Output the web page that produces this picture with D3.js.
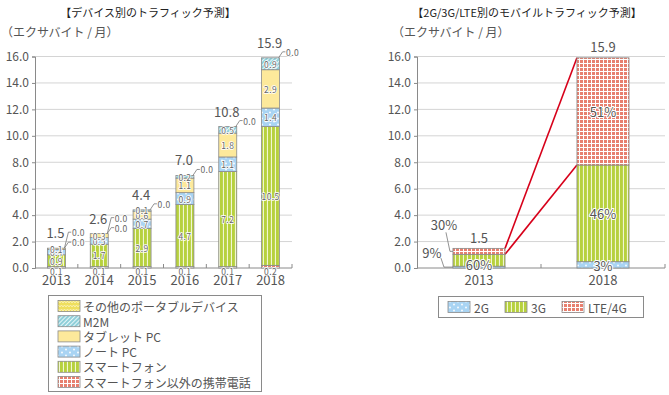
<!DOCTYPE html>
<html><head><meta charset="utf-8">
<script src="https://cdn.jsdelivr.net/npm/d3@7"></script>
<style>
html,body{margin:0;padding:0;background:#fff;}
svg{display:block;font-family:"Noto Sans CJK JP","Noto Sans",sans-serif;}
</style></head>
<body>
<script>
// ---- Data: left chart (exabytes / month) ----
const years = ["2013","2014","2015","2016","2017","2018"];
const otherPhones   = [0.1, 0.1, 0.1, 0.1, 0.1, 0.2];
const smartphones   = [0.9, 1.7, 2.9, 4.7, 7.2, 10.5];
const notebooks     = [0.4, 0.5, 0.7, 0.9, 1.1, 1.4];
const tablets       = [0.1, 0.3, 0.6, 1.1, 1.8, 2.9];
const m2m           = [0.0, 0.0, 0.1, 0.2, 0.5, 0.9];
const otherPortable = [0.0, 0.0, 0.0, 0.0, 0.0, 0.0];
const totals        = ["1.5","2.6","4.4","7.0","10.8","15.9"];
const seriesNames = ["スマートフォン以外の携帯電話","スマートフォン","ノート PC","タブレット PC","M2M","その他のポータブルデバイス"];
// ---- Data: right chart ----
const years2 = ["2013","2018"];
const totals2 = [1.5, 15.9];
const pct2G  = [9, 3];
const pct3G  = [60, 46];
const pctLTE = [30, 51];
const series2Names = ["2G","3G","LTE/4G"];
const yTicks = [0,2,4,6,8,10,12,14,16];

const W=669,H=395;
const svg=d3.select("body").append("svg").attr("width",W).attr("height",H);
const defs=svg.append("defs");
function pat(id,w,h,build,transform){
  const p=defs.append("pattern").attr("id",id).attr("patternUnits","userSpaceOnUse").attr("width",w).attr("height",h);
  if(transform)p.attr("patternTransform",transform);
  build(p);
}
pat("pPhone",4,4,p=>{p.append("rect").attr("width",4).attr("height",4).attr("fill","#fff");
  p.append("rect").attr("width",3).attr("height",3).attr("fill","#e7806f");});
pat("pSmart",4,4,p=>{p.append("rect").attr("width",4).attr("height",4).attr("fill","#f1f6d2");
  p.append("rect").attr("width",2.9).attr("height",4).attr("fill","#b7d13e");});
pat("pNote",8,6,p=>{p.append("rect").attr("width",8).attr("height",6).attr("fill","#a9d4f3");
  p.append("circle").attr("cx",2).attr("cy",1.5).attr("r",0.9).attr("fill","#fff");
  p.append("circle").attr("cx",6).attr("cy",4.5).attr("r",0.9).attr("fill","#fff");});
pat("pTab",4,4,p=>{p.append("rect").attr("width",4).attr("height",4).attr("fill","#fde99b");});
pat("pM2M",3,3,p=>{p.append("rect").attr("width",3).attr("height",3).attr("fill","#8fcfd9");
  p.append("rect").attr("width",1).attr("height",3).attr("fill","#e6f6f8");},"rotate(45)");
pat("pOther",6,4,p=>{p.append("rect").attr("width",6).attr("height",4).attr("fill","#efdf5e");
  p.append("path").attr("d","M0,3L1.5,1L3,3L4.5,1L6,3").attr("fill","none").attr("stroke","#fbf4c0").attr("stroke-width",0.8);});
const fills=["url(#pPhone)","url(#pSmart)","url(#pNote)","url(#pTab)","url(#pM2M)","url(#pOther)"];
const fills2=["url(#pNote)","url(#pSmart)","url(#pPhone)"];

const txt="#555", grid="#d4d4d4", axisC="#8a8a8a", barStroke="#8a8a8a";
const yTop=56.5, yBot=268;

function frame(x0,x1,y){
  const g=svg.append("g");
  g.selectAll("line.grid").data(yTicks.filter(d=>d>0)).join("line")
    .attr("x1",x0).attr("x2",x1).attr("y1",d=>y(d)).attr("y2",d=>y(d))
    .attr("stroke",grid).attr("stroke-width",1);
  const ax=g.append("g").attr("transform",`translate(${x0},0)`)
    .call(d3.axisLeft(y).tickValues(yTicks).tickFormat(d3.format(".1f")).tickSize(3).tickPadding(3));
  ax.select(".domain").attr("stroke",axisC);
  ax.selectAll(".tick line").attr("stroke",axisC);
  ax.selectAll(".tick text").attr("fill",txt).attr("font-size",12).attr("font-family","Noto Sans CJK JP");
  g.append("line").attr("x1",x0).attr("x2",x1).attr("y1",y(0)).attr("y2",y(0)).attr("stroke",axisC);
  return g;
}

// ---------- Left chart ----------
const xL0=35,xL1=292;
const yL=d3.scaleLinear().domain([0,16]).range([yBot,yTop]);
const xL=d3.scaleBand().domain(years).range([xL0,xL1]).paddingInner(0.58).paddingOuter(0.29);
svg.append("text").attr("x",148).attr("y",17).attr("text-anchor","middle").attr("font-size",11).attr("fill","#222").text("【デバイス別のトラフィック予測】");
svg.append("text").attr("x",1).attr("y",37).attr("font-size",12).attr("fill",txt).text("（エクサバイト / 月）");
const gL=frame(xL0,xL1,yL);
const stepL=xL.step();
gL.selectAll("line.xt").data(d3.range(1,years.length+1)).join("line")
  .attr("x1",i=>xL0+i*stepL).attr("x2",i=>xL0+i*stepL).attr("y1",yBot-4).attr("y2",yBot).attr("stroke",axisC);
gL.selectAll("text.yr").data(years).join("text")
  .attr("x",d=>xL(d)+xL.bandwidth()/2).attr("y",yBot+17).attr("text-anchor","middle")
  .attr("font-size",13).attr("fill",txt).text(d=>d);

const leftSeries=[otherPhones,smartphones,notebooks,tablets,m2m,otherPortable];
const tableL=years.map((yr,i)=>{const o={year:yr};leftSeries.forEach((s,k)=>o["s"+k]=s[i]);return o;});
const stackL=d3.stack().keys(leftSeries.map((s,k)=>"s"+k))(tableL);
const bw=xL.bandwidth();
stackL.forEach((layer,k)=>{
  gL.selectAll(null).data(layer.filter(d=>d[1]-d[0]>0)).join("rect")
    .attr("x",d=>xL(d.data.year)).attr("width",bw)
    .attr("y",d=>yL(d[1])).attr("height",d=>yL(d[0])-yL(d[1]))
    .attr("fill",fills[k]).attr("stroke",barStroke).attr("stroke-width",0.8);
});
function small(g,x,y,t,anchor){
  return g.append("text").attr("x",x).attr("y",y).attr("text-anchor",anchor||"middle")
    .attr("dominant-baseline","central").attr("font-size",8.5).attr("letter-spacing",0.4)
    .attr("fill","#666").attr("stroke","#fff").attr("stroke-width",1.6).attr("paint-order","stroke")
    .attr("stroke-linejoin","round").text(t);
}
years.forEach((yr,i)=>{
  const cx=xL(yr)+bw/2, right=xL(yr)+bw;
  const top=yL(stackL[stackL.length-1][i][1]);
  let zeroCount=0;
  stackL.forEach((layer,k)=>{
    const d=layer[i], v=d[1]-d[0];
    if(v>0){
      const cy = k===0 ? yL(d[0])+2.5 : (yL(d[0])+yL(d[1]))/2;
      small(gL,cx,cy,v.toFixed(1));
    } else {
      const ly=top-6-10*zeroCount;
      gL.append("path").attr("d",`M${right-1},${top}L${right+3},${ly}L${right+6},${ly}`)
        .attr("fill","none").attr("stroke","#777").attr("stroke-width",0.8);
      small(gL,right+6.5,ly,v.toFixed(1),"start");
      zeroCount++;
    }
  });
  gL.append("text").attr("x",cx-1).attr("y",top-10).attr("text-anchor","middle")
    .attr("font-size",13).attr("fill",txt).text(totals[i]);
});

// legend left
const lg=svg.append("g");
lg.append("rect").attr("x",48.5).attr("y",295.5).attr("width",213).attr("height",96).attr("fill","#fff").attr("stroke",axisC);
const legOrder=[5,4,3,2,1,0];
legOrder.forEach((k,j)=>{
  const yy=306+j*15.2;
  lg.append("rect").attr("x",58).attr("y",yy-5.5).attr("width",22).attr("height",11).attr("fill",fills[k]).attr("stroke",barStroke).attr("stroke-width",0.8);
  lg.append("text").attr("x",83).attr("y",yy).attr("dominant-baseline","central").attr("font-size",12).attr("fill",txt).text(seriesNames[k]);
});

// ---------- Right chart ----------
const xR0=417,xR1=665;
const yR=d3.scaleLinear().domain([0,16]).range([yBot,yTop]);
const xR=d3.scaleBand().domain(years2).range([xR0,xR1]).paddingInner(0.58).paddingOuter(0.29);
svg.append("text").attr("x",527).attr("y",17).attr("text-anchor","middle").attr("font-size",11).attr("fill","#222").text("【2G/3G/LTE別のモバイルトラフィック予測】");
svg.append("text").attr("x",392).attr("y",37).attr("font-size",12).attr("fill",txt).text("（エクサバイト / 月）");
const gR=frame(xR0,xR1,yR);
const stepR=xR.step();
gR.selectAll("line.xt").data([1,2]).join("line")
  .attr("x1",i=>xR0+i*stepR).attr("x2",i=>xR0+i*stepR).attr("y1",yBot-4).attr("y2",yBot).attr("stroke",axisC);
gR.selectAll("text.yr").data(years2).join("text")
  .attr("x",d=>xR(d)+xR.bandwidth()/2).attr("y",yBot+17).attr("text-anchor","middle")
  .attr("font-size",13).attr("fill",txt).text(d=>d);
const pcts=[pct2G,pct3G,pctLTE];
const tableR=years2.map((yr,i)=>{const o={year:yr};pcts.forEach((p,k)=>o["p"+k]=totals2[i]*p[i]/100);return o;});
const stackR=d3.stack().keys(["p0","p1","p2"])(tableR);
const bw2=xR.bandwidth();
const lineC="#d7001a";
[2,1].forEach(k=>{
  const a=stackR[k][0], b=stackR[k][1];
  gR.append("line").attr("x1",xR(years2[0])+bw2).attr("y1",yR(a[1]))
    .attr("x2",xR(years2[1])).attr("y2",yR(b[1])).attr("stroke",lineC).attr("stroke-width",1.6);
});
stackR.forEach((layer,k)=>{
  gR.selectAll(null).data(layer).join("rect")
    .attr("x",d=>xR(d.data.year)).attr("width",bw2)
    .attr("y",d=>yR(d[1])).attr("height",d=>yR(d[0])-yR(d[1]))
    .attr("fill",fills2[k]).attr("stroke",barStroke).attr("stroke-width",0.8);
});
function mid(g,x,y,t){
  return g.append("text").attr("x",x).attr("y",y).attr("text-anchor","middle").attr("dominant-baseline","central")
    .attr("font-size",13).attr("fill",txt).attr("stroke","#fff").attr("stroke-width",2).attr("paint-order","stroke")
    .attr("stroke-linejoin","round").text(t);
}
{
  const i=0, xl=xR(years2[0]), cx=xl+bw2/2;
  mid(gR,cx,yR(stackR[1][i][0]+ (stackR[1][i][1]-stackR[1][i][0])*0.2)+1,pct3G[i]+"%");
  const lteC=(yR(stackR[2][i][0])+yR(stackR[2][i][1]))/2;
  const g2C=(yR(stackR[0][i][0])+yR(stackR[0][i][1]))/2;
  gR.append("path").attr("d",`M${xl-7},${lteC-19}L${xl-3},${lteC}L${xl},${lteC}`).attr("fill","none").attr("stroke","#777").attr("stroke-width",0.8);
  gR.append("path").attr("d",`M${xl-12},${g2C-9}L${xl-9},${g2C}L${xl},${g2C}`).attr("fill","none").attr("stroke","#777").attr("stroke-width",0.8);
  gR.append("text").attr("x",xl-9).attr("y",lteC-27).attr("text-anchor","middle").attr("dominant-baseline","central").attr("font-size",13).attr("fill",txt).text(pctLTE[i]+"%");
  gR.append("text").attr("x",xl-21).attr("y",g2C-15).attr("text-anchor","middle").attr("dominant-baseline","central").attr("font-size",13).attr("fill",txt).text(pct2G[i]+"%");
  gR.append("text").attr("x",cx).attr("y",yR(stackR[2][i][1])-11).attr("text-anchor","middle").attr("dominant-baseline","central").attr("font-size",13).attr("fill",txt).text(totals2[i].toFixed(1));
}
{
  const i=1, cx=xR(years2[1])+bw2/2;
  stackR.forEach((layer,k)=>{
    const d=layer[i];
    const cy = k===0 ? yR(d[0])-3 : (yR(d[0])+yR(d[1]))/2;
    mid(gR,cx,cy,pcts[k][i]+"%");
  });
  gR.append("text").attr("x",cx).attr("y",yR(stackR[2][i][1])-11).attr("text-anchor","middle").attr("dominant-baseline","central").attr("font-size",13).attr("fill",txt).text(totals2[i].toFixed(1));
}
const lg2=svg.append("g");
lg2.append("rect").attr("x",438.5).attr("y",296.5).attr("width",205).attr("height",21).attr("fill","#fff").attr("stroke",axisC);
const legX=[448,505,562];
series2Names.forEach((n,k)=>{
  lg2.append("rect").attr("x",legX[k]).attr("y",301.5).attr("width",22).attr("height",11).attr("fill",fills2[k]).attr("stroke",barStroke).attr("stroke-width",0.8);
  lg2.append("text").attr("x",legX[k]+26).attr("y",307).attr("dominant-baseline","central").attr("font-size",12).attr("fill",txt).text(n);
});
</script>
</body></html>
